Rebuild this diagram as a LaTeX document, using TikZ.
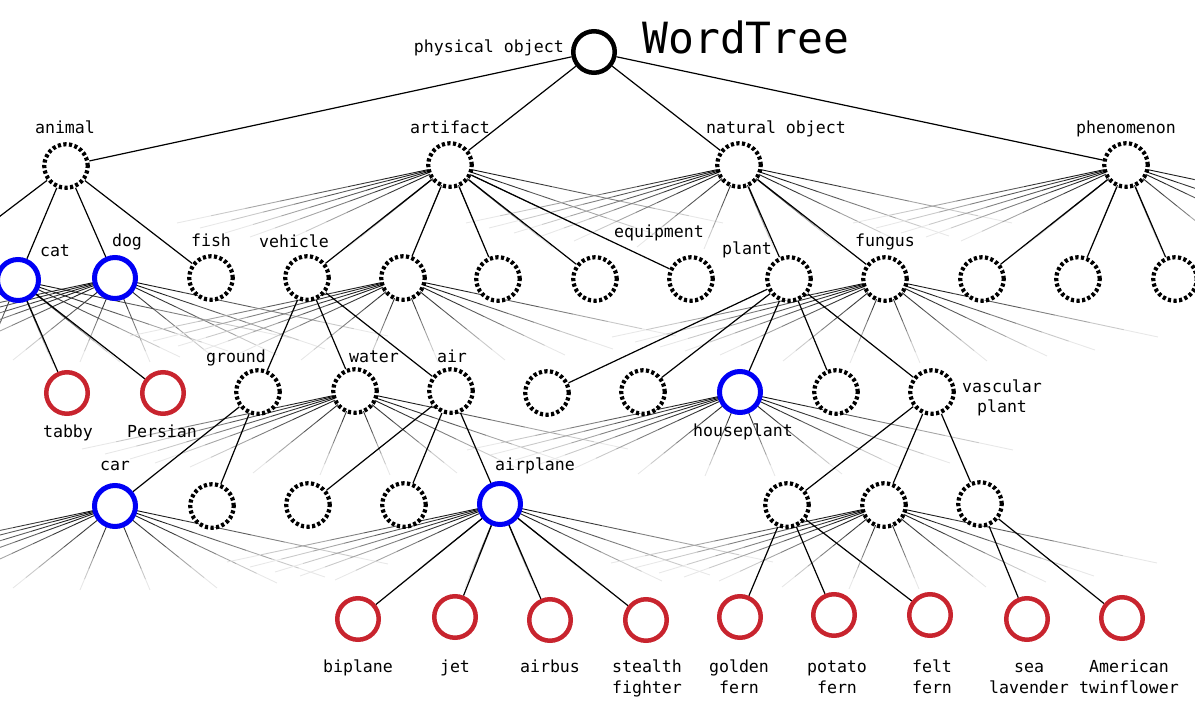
\documentclass[tikz,border=0pt]{standalone}
\usepackage{fontspec}
\setmonofont{DejaVu Sans Mono}
\usetikzlibrary{calc}
\pgfdeclarelayer{background}
\pgfsetlayers{background,main}
\definecolor{nodeblue}{RGB}{0,0,245}
\definecolor{leafred}{RGB}{200,36,46}
\tikzset{
  hub/.style={circle, draw=black, fill=white, line width=4.2pt, dash pattern=on 3.2pt off 2.4pt, minimum size=43.5pt, inner sep=0pt},
  rootnode/.style={circle, draw=black, fill=white, line width=4.5pt, minimum size=41.5pt, inner sep=0pt},
  focus/.style={circle, draw=nodeblue, fill=white, line width=5pt, minimum size=41pt, inner sep=0pt},
  leaf/.style={circle, draw=leafred, fill=white, line width=4.5pt, minimum size=41.5pt, inner sep=0pt},
  lab/.style={font=\ttfamily\fontsize{16.6}{21}\selectfont, inner sep=0pt, anchor=base, text=black},
  edge/.style={draw=black, line width=1.2pt},
}
\newcommand\fadeline[2]{%
  \foreach \ta/\tb/\gv in {0/0.125/95,0.125/0.25/88,0.25/0.375/78,0.375/0.5/64,0.5/0.625/50,0.625/0.75/35,0.75/0.875/21,0.875/1/9}{%
    \draw[black!\gv, line width=0.9pt] ($(#1)!\ta!(#2)$) -- ($(#1)!\tb!(#2)$);
  }%
}
\newcommand\fan[1]{%
  \foreach \dx/\dy [count=\k] in {-273/58,-250/63,-225/68,-200/72,-165/76,-102/82,-35/84,35/84,102/82,162/77,210/71,273/58}{%
    \coordinate (#1-f\k) at ($(#1)+(\dx,\dy)$);
    \fadeline{#1}{#1-f\k}
  }%
}
\begin{document}
\begin{tikzpicture}[x=1pt,y=-1pt]
\useasboundingbox (0,0) rectangle (1195,701);
% level 0
\node[rootnode] (phys) at (594,52) {};
% level 1
\node[hub] (animal) at (66,166) {};
\node[hub] (artifact) at (450,165) {};
\node[hub] (natobj) at (739,165) {};
\node[hub] (phen) at (1126,165) {};
% level 2
\node[focus] (cat) at (18,280) {};
\node[focus] (dog) at (115,278) {};
\node[hub] (fish) at (211,278) {};
\node[hub] (vehicle) at (307,278) {};
\node[hub] (n2e) at (403,278) {};
\node[hub] (n2f) at (498,279) {};
\node[hub] (n2g) at (595,279) {};
\node[hub] (equip) at (691,279) {};
\node[hub] (plant) at (789,279) {};
\node[hub] (fungus) at (885,279) {};
\node[hub] (n2k) at (982,279) {};
\node[hub] (n2l) at (1078,279) {};
\node[hub] (n2m) at (1175,279) {};
% level 3
\node[leaf] (tabby) at (67,393) {};
\node[leaf] (persian) at (163,393) {};
\node[hub] (ground) at (258,392) {};
\node[hub] (water) at (355,391) {};
\node[hub] (air) at (451,391) {};
\node[hub] (n3e) at (547,393) {};
\node[hub] (n3f) at (643,392) {};
\node[focus] (houseplant) at (740,392) {};
\node[hub] (n3h) at (836,392) {};
\node[hub] (vascular) at (932,392) {};
% level 4
\node[focus] (car) at (115,506) {};
\node[hub] (n4b) at (212,506) {};
\node[hub] (n4c) at (308,505) {};
\node[hub] (n4d) at (404,505) {};
\node[focus] (airplane) at (500,504) {};
\node[hub] (n4f) at (787,505) {};
\node[hub] (n4g) at (884,505) {};
\node[hub] (n4h) at (980,504) {};
% level 5
\node[leaf] (biplane) at (358,619) {};
\node[leaf] (jet) at (455,617) {};
\node[leaf] (airbus) at (550,620) {};
\node[leaf] (stealth) at (646,620) {};
\node[leaf] (golden) at (740,617) {};
\node[leaf] (potato) at (834,615) {};
\node[leaf] (felt) at (930,615) {};
\node[leaf] (sea) at (1027,619) {};
\node[leaf] (twin) at (1122,618) {};
% labels
\node[lab, font=\ttfamily\fontsize{43}{50}\selectfont] (title) at (746,54) {WordTree};
\node[lab, anchor=base east] (l-phys) at (564,53) {physical object};
\node[lab] (l-animal) at (65,133) {animal};
\node[lab] (l-artifact) at (450,133) {artifact};
\node[lab] (l-natobj) at (776,133) {natural object};
\node[lab] (l-phen) at (1126,133) {phenomenon};
\node[lab] (l-cat) at (55,256) {cat};
\node[lab] (l-dog) at (127,246) {dog};
\node[lab] (l-fish) at (211,246) {fish};
\node[lab] (l-vehicle) at (294,247) {vehicle};
\node[lab] (l-equip) at (659,237) {equipment};
\node[lab] (l-plant) at (747,254) {plant};
\node[lab] (l-fungus) at (885,246) {fungus};
\node[lab] (l-ground) at (236,362) {ground};
\node[lab] (l-water) at (374,362) {water};
\node[lab] (l-air) at (452,362) {air};
\node[lab] (l-tabby) at (68,437) {tabby};
\node[lab] (l-persian) at (162,437) {Persian};
\node[lab] (l-houseplant) at (743,436) {houseplant};
\node[lab] (l-vascular1) at (1002,392) {vascular};
\node[lab] (l-vascular2) at (1002,412) {plant};
\node[lab] (l-car) at (115,470) {car};
\node[lab] (l-airplane) at (535,470) {airplane};
\node[lab] (l-biplane) at (358,672) {biplane};
\node[lab] (l-jet) at (455,672) {jet};
\node[lab] (l-airbus) at (550,672) {airbus};
\node[lab] (l-stealth1) at (647,672) {stealth};
\node[lab] (l-stealth2) at (647,693) {fighter};
\node[lab] (l-golden1) at (739,672) {golden};
\node[lab] (l-golden2) at (739,693) {fern};
\node[lab] (l-potato1) at (837,672) {potato};
\node[lab] (l-potato2) at (837,693) {fern};
\node[lab] (l-felt1) at (932,672) {felt};
\node[lab] (l-felt2) at (932,693) {fern};
\node[lab] (l-sea1) at (1029,672) {sea};
\node[lab] (l-sea2) at (1029,693) {lavender};
\node[lab] (l-twin1) at (1129,672) {American};
\node[lab] (l-twin2) at (1129,693) {twinflower};
\begin{pgfonlayer}{background}
  \foreach \p in {artifact,natobj,phen,cat,dog,n2e,fungus,water,houseplant,car,airplane,n4g}{\fan{\p}}
  \coordinate (animal-off) at (-30,239);
  \draw[edge] (animal) -- (animal-off);
  \foreach \c in {animal,artifact,natobj,phen} \draw[edge] (phys) -- (\c);
  \foreach \c in {cat,dog,fish} \draw[edge] (animal) -- (\c);
  \foreach \c in {vehicle,n2e,n2f,n2g,equip} \draw[edge] (artifact) -- (\c);
  \foreach \c in {plant,fungus} \draw[edge] (natobj) -- (\c);
  \foreach \c in {n2k,n2l,n2m} \draw[edge] (phen) -- (\c);
  \foreach \c in {tabby,persian} \draw[edge] (cat) -- (\c);
  \foreach \c in {ground,water,air} \draw[edge] (vehicle) -- (\c);
  \foreach \c in {n3e,n3f,houseplant,n3h,vascular} \draw[edge] (plant) -- (\c);
  \foreach \c in {car,n4b} \draw[edge] (ground) -- (\c);
  \foreach \c in {n4c,n4d,airplane} \draw[edge] (air) -- (\c);
  \foreach \c in {n4f,n4g,n4h} \draw[edge] (vascular) -- (\c);
  \foreach \c in {biplane,jet,airbus,stealth} \draw[edge] (airplane) -- (\c);
  \foreach \c in {golden,potato,felt} \draw[edge] (n4f) -- (\c);
  \foreach \c in {sea,twin} \draw[edge] (n4h) -- (\c);
\end{pgfonlayer}
\end{tikzpicture}
\end{document}
